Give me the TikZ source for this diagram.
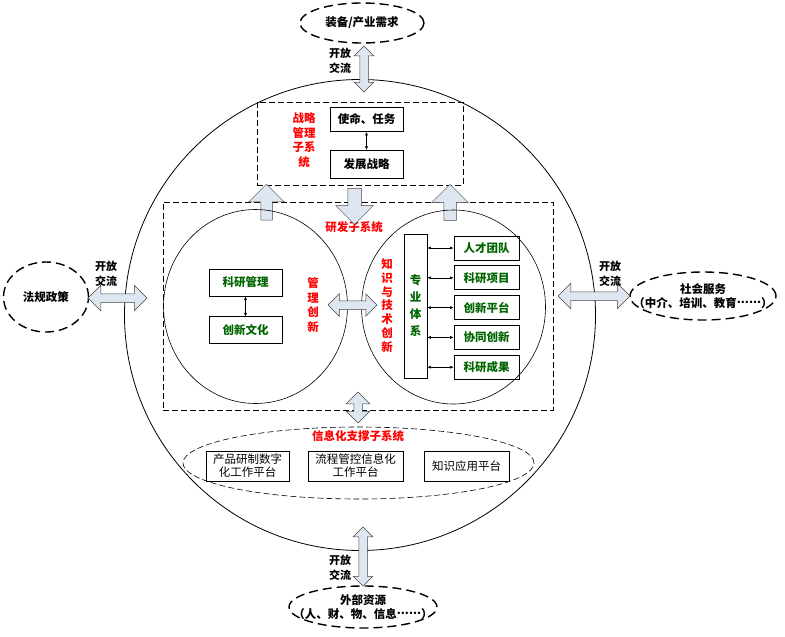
\documentclass[tikz,border=0pt]{standalone}
\usepackage{fontspec}
\setmainfont{Noto Sans CJK SC}
\usepackage{tikz}
\usetikzlibrary{arrows.meta,positioning,shapes.geometric,shapes.arrows}

\definecolor{sysred}{RGB}{255,0,0}
\definecolor{unitgreen}{RGB}{0,100,0}
\definecolor{flowfill}{RGB}{222,231,241}
\definecolor{flowline}{RGB}{70,70,70}
\newcommand{\cdotrun}{\raisebox{0.33em}{......}}

\begin{document}
\begin{tikzpicture}[
  x=1pt, y=-1pt,
  font=\fontsize{11.5}{14}\selectfont\bfseries,
  node distance=5pt,
  box/.style={draw, line width=0.8pt, minimum width=73pt, minimum height=24pt, inner sep=1pt},
  unitbox/.style={box, text=unitgreen, minimum width=65pt},
  platbox/.style={draw, line width=0.8pt, align=center, inner sep=1pt,
                  font=\fontsize{11.5}{13}\selectfont, minimum height=30pt},
  outer/.style={draw, ellipse, line width=1.4pt, dash pattern=on 9pt off 5pt, inner sep=0pt},
  sysframe/.style={draw, line width=0.6pt, dash pattern=on 6pt off 3pt, inner sep=0pt},
  syslabel/.style={text=sysred, align=center},
  vlabel/.style={syslabel, font=\fontsize{11.5}{14.5}\selectfont\bfseries},
  flowlabel/.style={align=center, font=\fontsize{11}{15}\selectfont\bfseries},
  flow/.style={double arrow, draw=flowline, fill=flowfill, line width=0.5pt,
               inner sep=4pt, minimum width=0pt, double arrow head extend=6pt},
  push/.style={single arrow, draw=flowline, fill=flowfill, line width=0.5pt,
               inner sep=6pt, minimum width=0pt, single arrow head extend=12pt, minimum height=36pt},
  link/.style={{Latex[length=3.5pt,width=3pt]}-{Latex[length=3.5pt,width=3pt]}, line width=0.5pt}
]
\useasboundingbox (0,0) rectangle (785,637);

% organisation boundary
\node[draw, circle, line width=0.8pt, minimum size=471pt, inner sep=0pt] (org) at (360,315) {};

% environment
\node[outer, minimum width=124pt, minimum height=40pt] (demand) at (362,23) {};
\node (demandtext) at (demand) {装备/产业需求};
\node[outer, minimum width=85pt, minimum height=70pt] (policy) at (46,297) {};
\node (policytext) at (policy) {法规政策};
\node[outer, minimum width=146pt, minimum height=48pt] (service) at (703,296) {};
\node[align=center] (servicetext) at (service) {社会服务\\（中介、培训、教育\cdotrun）};
\node[outer, minimum width=148pt, minimum height=42pt] (resource) at (363,607) {};
\node[align=center] (resourcetext) at (resource) {外部资源\\（人、财、物、信息\cdotrun）};

% open exchange
\node[flow, shape border rotate=90, minimum height=46pt, double arrow head extend=5.5pt] (topflow) at (364,69) {};
\node[flow, minimum height=59pt, double arrow head extend=8.5pt] (leftflow) at (117.5,298) {};
\node[flow, minimum height=72pt, double arrow head extend=8.5pt] (rightflow) at (594,296) {};
\node[flow, shape border rotate=90, minimum height=59pt, double arrow head extend=5.5pt] (bottomflow) at (363,556.5) {};
\node[flowlabel] (topflowtag) at (340,61) {开放\\交流};
\node[flowlabel] (leftflowtag) at (106,274) {开放\\交流};
\node[flowlabel] (rightflowtag) at (610,274) {开放\\交流};
\node[flowlabel] (bottomflowtag) at (340,568) {开放\\交流};

% strategic management
\node[sysframe, minimum width=206pt, minimum height=83pt] (strategic) at (360,143.5) {};
\node[box] (mission) at (366.5,119.5) {使命、任务};
\node[box, below=18pt of mission, minimum height=28pt] (strategy) {发展战略};
\draw[link] (mission) -- (strategy);
\node[vlabel] (strategictag) at (304,140) {战略\\管理\\子系\\统};

% r&d subsystem
\node[sysframe, minimum width=390pt, minimum height=208pt] (rnd) at (358,306) {};
\node[syslabel] (rndtag) at (354,227) {研发子系统};
\node[push, shape border rotate=90, inner sep=5.5pt] (leftpush) at (266.5,205) {};
\node[push, shape border rotate=270, inner sep=6.5pt] (downpush) at (354.5,203) {};
\node[push, shape border rotate=90] (rightpush) at (450,205.5) {};

\node[draw, ellipse, line width=0.6pt, minimum width=184pt, minimum height=194pt] (mgmt) at (255.5,306.5) {};
\node[draw, ellipse, line width=0.6pt, minimum width=184pt, minimum height=194pt] (tech) at (453.5,307) {};

\node[box, text=unitgreen, minimum height=27pt] (resmgmt) at (245.5,282.5) {科研管理};
\node[box, text=unitgreen, minimum height=27pt, below=20pt of resmgmt] (culture) {创新文化};
\draw[link] (resmgmt) -- (culture);
\node[vlabel] (mgmttag) at (313,305) {管\\理\\创\\新};

\node[flow, minimum height=49pt, double arrow head extend=7pt] (midflow) at (352.5,305) {};

\node[vlabel, font=\fontsize{11.5}{13.8}\selectfont\bfseries] (techtag) at (387,305.5) {知\\识\\与\\技\\术\\创\\新};
\node[draw, line width=0.8pt, minimum width=23pt, minimum height=144pt, inner sep=0pt,
      text=unitgreen, align=center, font=\fontsize{11.5}{17}\selectfont\bfseries] (discipline) at (415.5,306) {专\\业\\体\\系};
\node[unitbox] (talent) at (486.5,248) {人才团队};
\node[unitbox, below=of talent] (project) {科研项目};
\node[unitbox, below=of project] (platform) {创新平台};
\node[unitbox, below=of platform] (synergy) {协同创新};
\node[unitbox, below=of synergy] (outcome) {科研成果};
\foreach \unit in {talent,project,platform,synergy,outcome}
  \draw[link] (discipline.east |- \unit) -- (\unit.west);

% information support
\node[flow, shape border rotate=90, minimum height=31pt, double arrow head extend=7.5pt] (infoflow) at (358,407.5) {};
\node[draw, ellipse, line width=0.6pt, dash pattern=on 6pt off 3pt, minimum width=351pt, minimum height=72pt] (info) at (358.5,463) {};
\node[syslabel] (infotag) at (358,436) {信息化支撑子系统};
\node[platbox, minimum width=83pt] (digital) at (247.5,466) {产品研制数字\\化工作平台};
\node[platbox, minimum width=95pt] (process) at (355.5,466) {流程管控信息化\\工作平台};
\node[platbox, minimum width=85pt] (knowledge) at (466.5,466) {知识应用平台};
\end{tikzpicture}
\end{document}
